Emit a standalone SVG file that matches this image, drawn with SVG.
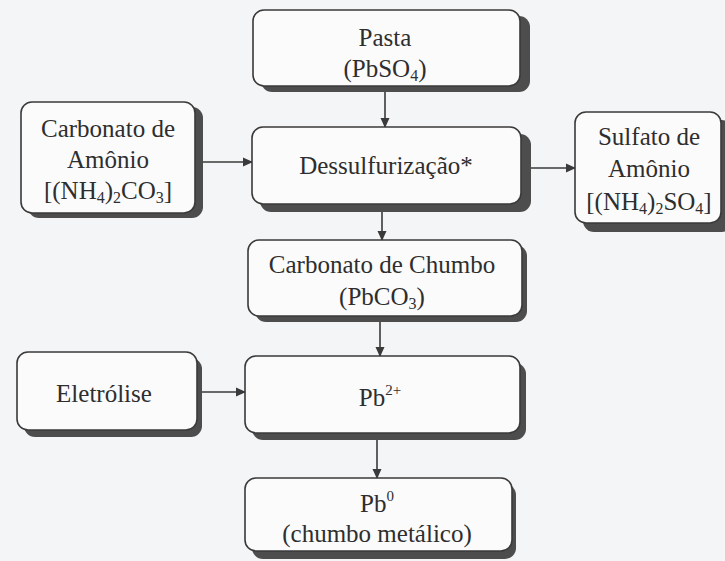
<svg xmlns="http://www.w3.org/2000/svg" width="725" height="561" viewBox="0 0 725 561">
<defs>
<style>
.sh{fill:#4d4d4d;}
.bx{fill:#fbfbfb;stroke:#3a3a3a;stroke-width:1.6;}
.t{font-family:'Liberation Serif','Times New Roman','DejaVu Serif',serif;font-size:25px;fill:#2e2e2e;text-anchor:middle;}
.c{stroke:#3a3a3a;stroke-width:1.6;fill:none;marker-end:url(#ah);}
</style>
<marker id="ah" viewBox="0 0 10 10" refX="9" refY="5" markerWidth="10" markerHeight="10" markerUnits="userSpaceOnUse" orient="auto">
<path d="M0,0.5 L10,5 L0,9.5 Z" fill="#3a3a3a"/>
</marker>
</defs>
<rect width="725" height="561" fill="#f4f5f7"/>
<g id="connectors">
<line class="c" x1="385" y1="92" x2="385" y2="127"/>
<line class="c" x1="203" y1="162" x2="252" y2="162"/>
<line class="c" x1="531" y1="168" x2="575" y2="168"/>
<line class="c" x1="382" y1="212" x2="382" y2="240"/>
<line class="c" x1="380" y1="322" x2="380" y2="356"/>
<line class="c" x1="202" y1="392" x2="245" y2="392"/>
<line class="c" x1="377" y1="440" x2="377" y2="478"/>
</g>
<g id="pasta">
<rect class="sh" x="261" y="16" width="269" height="76" rx="11"/>
<rect class="bx" x="253" y="10" width="267" height="76" rx="11"/>
<text class="t" x="385" y="46">Pasta</text>
<text class="t" x="385" y="77">(PbSO<tspan font-size="16" dy="4">4</tspan><tspan dy="-4">)</tspan></text>
</g>
<g id="carbonato-amonio">
<rect class="sh" x="28" y="107" width="175" height="111" rx="11"/>
<rect class="bx" x="21" y="102" width="174" height="111" rx="11"/>
<text class="t" x="108" y="137">Carbonato de</text>
<text class="t" x="108" y="168">Amônio</text>
<text class="t" x="108" y="199">[(NH<tspan font-size="16" dy="4">4</tspan><tspan dy="-4">)</tspan><tspan font-size="16" dy="4">2</tspan><tspan dy="-4">CO</tspan><tspan font-size="16" dy="4">3</tspan><tspan dy="-4">]</tspan></text>
</g>
<g id="dessulfurizacao">
<rect class="sh" x="260" y="134" width="271" height="78" rx="11"/>
<rect class="bx" x="252" y="127" width="269" height="77" rx="11"/>
<text class="t" x="386" y="174">Dessulfurização*</text>
</g>
<g id="sulfato-amonio">
<rect class="sh" x="583" y="120" width="150" height="112" rx="11"/>
<rect class="bx" x="575" y="112" width="146" height="111" rx="11"/>
<text class="t" x="649" y="145">Sulfato de</text>
<text class="t" x="649" y="177">Amônio</text>
<text class="t" x="649" y="210">[(NH<tspan font-size="16" dy="4">4</tspan><tspan dy="-4">)</tspan><tspan font-size="16" dy="4">2</tspan><tspan dy="-4">SO</tspan><tspan font-size="16" dy="4">4</tspan><tspan dy="-4">]</tspan></text>
</g>
<g id="carbonato-chumbo">
<rect class="sh" x="255" y="245" width="272" height="77" rx="11"/>
<rect class="bx" x="248" y="240" width="274" height="76" rx="11"/>
<text class="t" x="382" y="273">Carbonato de Chumbo</text>
<text class="t" x="382" y="305">(PbCO<tspan font-size="16" dy="4">3</tspan><tspan dy="-4">)</tspan></text>
</g>
<g id="eletrolise">
<rect class="sh" x="24" y="358" width="178" height="79" rx="11"/>
<rect class="bx" x="17" y="352" width="180" height="78" rx="11"/>
<text class="t" x="104" y="402">Eletrólise</text>
</g>
<g id="pb2">
<rect class="sh" x="252" y="363" width="274" height="77" rx="11"/>
<rect class="bx" x="245" y="356" width="275" height="77" rx="11"/>
<text class="t" x="380" y="406">Pb<tspan font-size="15" dy="-11">2+</tspan></text>
</g>
<g id="pb0">
<rect class="sh" x="252" y="484" width="264" height="75" rx="11"/>
<rect class="bx" x="245" y="478" width="267" height="73" rx="11"/>
<text class="t" x="377" y="512">Pb<tspan font-size="15" dy="-11">0</tspan></text>
<text class="t" x="377" y="542">(chumbo metálico)</text>
</g>
</svg>
